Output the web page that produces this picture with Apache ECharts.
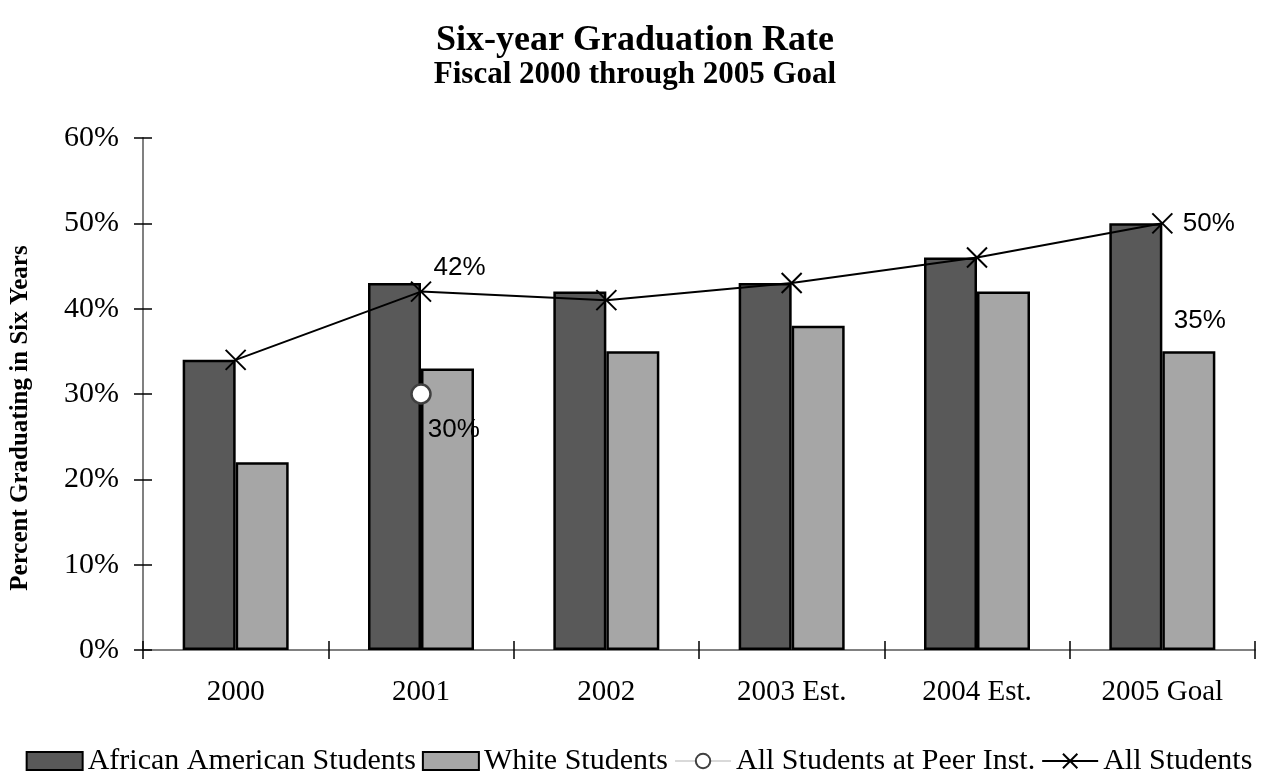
<!DOCTYPE html>
<html>
<head>
<meta charset="utf-8">
<title>Six-year Graduation Rate</title>
<script src="https://cdn.jsdelivr.net/npm/echarts@6/dist/echarts.min.js"></script>
<style>
  html, body { margin: 0; padding: 0; background: #fff; }
  #chart { width: 1278px; height: 775px; }
</style>
</head>
<body>
<div id="chart"></div>
<script>
const years = ['2000', '2001', '2002', '2003 Est.', '2004 Est.', '2005 Goal'];
const africanAmerican = [34, 43, 42, 43, 46, 50];
const white = [22, 33, 35, 38, 42, 35];
const peerInst = [null, 30, null, null, null, null];
const allStudents = [34, 42, 41, 43, 46, 50];
const yTicks = { min: 0, max: 60, interval: 10 };

const serif = '"Liberation Serif", "Times New Roman", serif';
const sans = '"Liberation Sans", Arial, sans-serif';
const crossPath = 'path://M0,0L10,10M10,0L0,10';

const chart = echarts.init(document.getElementById('chart'));

const yBase = {
  type: 'value',
  min: yTicks.min,
  max: yTicks.max,
  interval: yTicks.interval,
  splitLine: { show: false }
};

const dataLabel = { formatter: '{c}%', fontFamily: sans, fontSize: 26, color: '#000' };

const option = {
  animation: false,
  title: [
    {
      text: 'Six-year Graduation Rate',
      left: 630, top: 18, textAlign: 'center',
      textStyle: { fontFamily: serif, fontSize: 36, fontWeight: 'bold', color: '#000' }
    },
    {
      text: 'Fiscal 2000 through 2005 Goal',
      left: 630, top: 54, textAlign: 'center',
      textStyle: { fontFamily: serif, fontSize: 31, fontWeight: 'bold', color: '#000' }
    }
  ],
  grid: { left: 143, right: 23, top: 138, bottom: 125 },
  legend: {
    top: 741,
    left: 'center',
    itemGap: 6,
    itemWidth: 56,
    itemHeight: 18,
    textStyle: { fontFamily: serif, fontSize: 30, color: '#000' },
    data: [
      { name: 'African American Students', icon: 'rect' },
      { name: 'White Students', icon: 'rect' },
      { name: 'All Students at Peer Inst.' },
      { name: 'All Students' }
    ]
  },
  xAxis: [
    {
      type: 'category',
      data: years,
      axisLine: { lineStyle: { color: '#808080', width: 2 } },
      axisTick: { show: true, alignWithLabel: false, length: 9, lineStyle: { color: '#000', width: 1.5 } },
      axisLabel: { fontFamily: serif, fontSize: 29, color: '#000', margin: 28 }
    },
    {
      type: 'category',
      data: years,
      position: 'bottom',
      axisLine: { show: false },
      axisTick: { show: true, alignWithLabel: false, inside: true, length: 9, lineStyle: { color: '#000', width: 1.5 } },
      axisLabel: { show: false }
    }
  ],
  yAxis: [
    Object.assign({}, yBase, {
      axisLine: { show: true, lineStyle: { color: '#808080', width: 2 } },
      axisTick: { show: true, length: 9, lineStyle: { color: '#000', width: 1.5 } },
      axisLabel: { fontFamily: serif, fontSize: 30, color: '#000', margin: 24, formatter: '{value}%' },
      name: 'Percent Graduating in Six Years',
      nameLocation: 'middle',
      nameGap: 110,
      nameTextStyle: { fontFamily: serif, fontSize: 25, fontWeight: 'bold', color: '#000', padding: [0, 0, 0, -48] }
    }),
    Object.assign({}, yBase, {
      position: 'left',
      axisLine: { show: false },
      axisTick: { show: true, inside: true, length: 9, lineStyle: { color: '#000', width: 1.5 } },
      axisLabel: { show: false }
    })
  ],
  series: [
    {
      name: 'African American Students',
      type: 'bar',
      data: africanAmerican,
      barWidth: 53,
      barGap: '0%',
      itemStyle: { color: '#595959', borderColor: '#000', borderWidth: 2.5 }
    },
    {
      name: 'White Students',
      type: 'bar',
      data: white.map((v, i) => i === 5 ? {
        value: v,
        label: Object.assign({ show: true, position: 'top', distance: 18, offset: [11, 0] }, dataLabel)
      } : v),
      barWidth: 53,
      barGap: '0%',
      itemStyle: { color: '#a6a6a6', borderColor: '#000', borderWidth: 2.5 }
    },
    {
      name: 'All Students at Peer Inst.',
      type: 'line',
      data: peerInst,
      symbol: 'circle',
      symbolSize: 19,
      z: 5,
      lineStyle: { color: '#d9d9d9', width: 2.5 },
      itemStyle: { color: '#fff', borderColor: '#404040', borderWidth: 2.5 },
      label: Object.assign({ show: true, position: 'right', distance: -4, offset: [0, 36] }, dataLabel)
    },
    {
      name: 'All Students',
      type: 'line',
      data: allStudents.map((v, i) => {
        if (i === 1) {
          return { value: v, label: { show: true, position: 'right', distance: 0, offset: [0, -24] } };
        }
        if (i === 5) {
          return { value: v, label: { show: true, position: 'right', distance: 8, offset: [0, 0] } };
        }
        return v;
      }),
      symbol: crossPath,
      symbolSize: 20,
      z: 6,
      lineStyle: { color: '#000', width: 2 },
      itemStyle: { color: 'none', borderColor: '#000', borderWidth: 2 },
      label: Object.assign({ show: false }, dataLabel)
    }
  ]
};

chart.setOption(option);
</script>
</body>
</html>
